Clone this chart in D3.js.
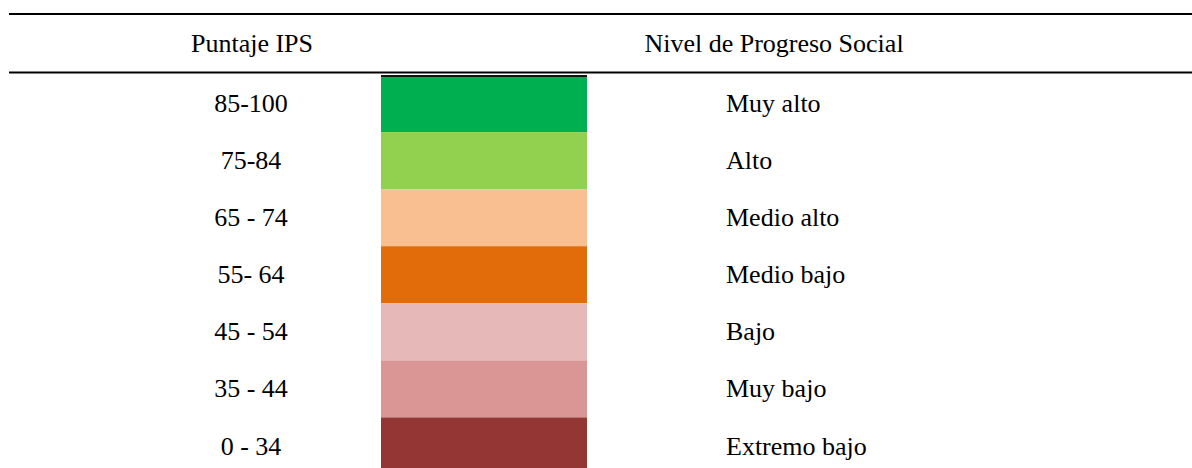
<!DOCTYPE html>
<html>
<head>
<meta charset="utf-8">
<script src="https://cdn.jsdelivr.net/npm/d3@7"></script>
<style>
  html, body { margin: 0; padding: 0; background: #ffffff; }
  svg { display: block; }
</style>
</head>
<body>
<svg id="chart" width="1192" height="468"></svg>
<script>
const headers = ["Puntaje IPS", "Nivel de Progreso Social"];
const scoreRanges = ["85-100", "75-84", "65 - 74", "55- 64", "45 - 54", "35 - 44", "0 - 34"];
const levels = ["Muy alto", "Alto", "Medio alto", "Medio bajo", "Bajo", "Muy bajo", "Extremo bajo"];
const palette = ["#00AF50", "#92D050", "#F9BF91", "#E36C0A", "#E6B9B8", "#D99694", "#943634"];

const W = 1192, H = 468;
const FONT = "'Liberation Serif', 'Times New Roman', serif";
const svg = d3.select("#chart");
const fontSize = 26;

const y = d3.scaleBand().domain(levels).range([75, 474.5]).paddingInner(0).paddingOuter(0);
const color = d3.scaleOrdinal().domain(levels).range(palette);
const cellX = d3.scaleLinear().domain([0, 1]).range([381, 587]);

// header rules
svg.append("line").attr("x1", 9).attr("x2", W).attr("y1", 14).attr("y2", 14)
  .attr("stroke", "#000").attr("stroke-width", 2.2);
svg.append("line").attr("x1", 9).attr("x2", W).attr("y1", 72.5).attr("y2", 72.5)
  .attr("stroke", "#000").attr("stroke-width", 2.2);

// headers
svg.append("text").attr("x", 252).attr("y", 52).attr("text-anchor", "middle")
  .attr("font-family", FONT).attr("font-size", fontSize).attr("fill", "#000").text(headers[0]);
svg.append("text").attr("x", 774).attr("y", 52).attr("text-anchor", "middle")
  .attr("font-family", FONT).attr("font-size", fontSize).attr("fill", "#000").text(headers[1]);

// color cells
svg.selectAll("rect.cell").data(levels).enter().append("rect")
  .attr("class", "cell")
  .attr("x", cellX(0))
  .attr("y", d => y(d))
  .attr("width", cellX(1) - cellX(0))
  .attr("height", y.bandwidth())
  .attr("fill", d => color(d));

// thin dark band atop first cell
svg.append("rect").attr("x", cellX(0)).attr("y", y(levels[0]))
  .attr("width", cellX(1) - cellX(0)).attr("height", 2).attr("fill", "#111");

// score labels
svg.selectAll("text.score").data(scoreRanges).enter().append("text")
  .attr("class", "score")
  .attr("x", 251)
  .attr("y", (d, i) => y(levels[i]) + y.bandwidth() / 2 + 8.6)
  .attr("text-anchor", "middle")
  .attr("font-family", FONT).attr("font-size", fontSize).attr("fill", "#000")
  .text(d => d);

// level labels
svg.selectAll("text.level").data(levels).enter().append("text")
  .attr("class", "level")
  .attr("x", 726)
  .attr("y", d => y(d) + y.bandwidth() / 2 + 8.6)
  .attr("text-anchor", "start")
  .attr("font-family", FONT).attr("font-size", fontSize).attr("fill", "#000")
  .text(d => d);
</script>
</body>
</html>
